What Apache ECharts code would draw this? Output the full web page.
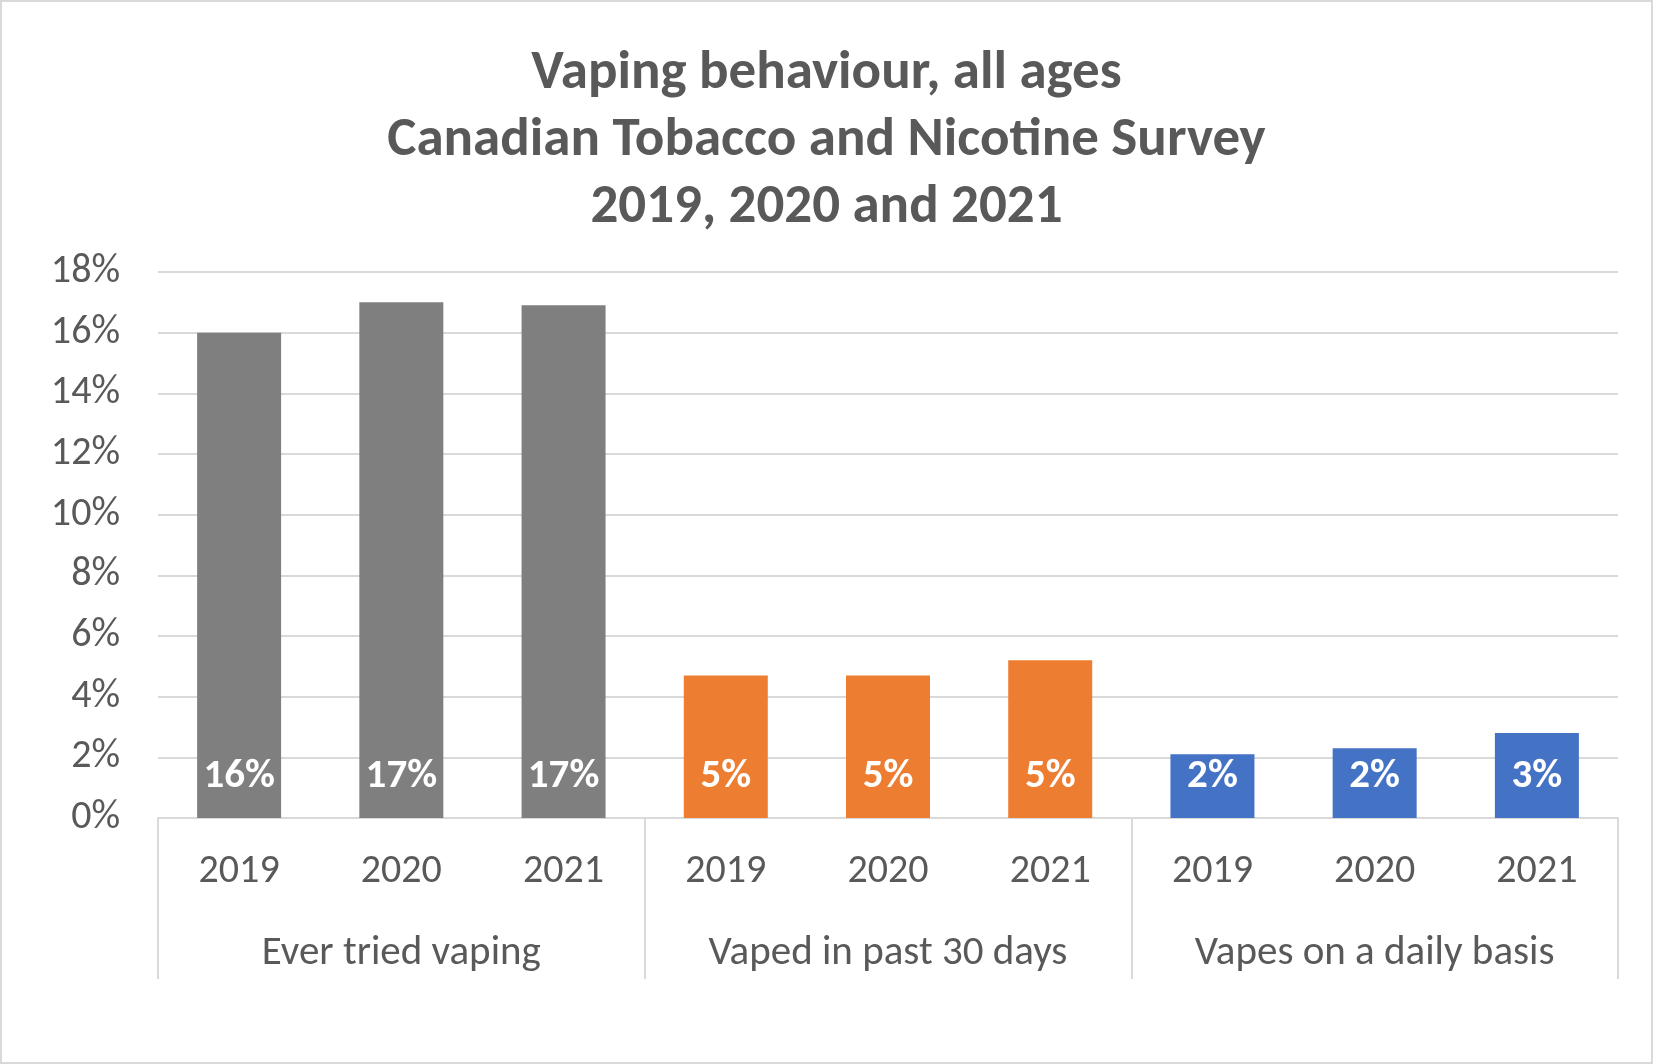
<!DOCTYPE html>
<html><head><meta charset="utf-8">
<script src="https://cdn.jsdelivr.net/npm/echarts@6/dist/echarts.min.js"></script>
<style>
html,body{margin:0;padding:0;background:#fff;}
#c{width:1653px;height:1064px;box-sizing:border-box;border:2px solid #d9d9d9;}
</style></head>
<body><div id="c"></div>
<script>
const titleLines = ['Vaping behaviour, all ages','Canadian Tobacco and Nicotine Survey','2019, 2020 and 2021'];
const years = ['2019','2020','2021'];
const groups = ['Ever tried vaping','Vaped in past 30 days','Vapes on a daily basis'];
const everTried = [16.0, 17.0, 16.9];
const past30 = [4.7, 4.7, 5.2];
const daily = [2.1, 2.3, 2.8];
const groupColors = ['#7f7f7f','#ed7d31','#4472c4'];
const yTicks = [0,2,4,6,8,10,12,14,16,18];

const FONT = 'Carlito, Lato, sans-serif';
const TXT = '#595959';
const seriesValues = [everTried, past30, daily];
const cats = [];
const data = [];
groups.forEach((g, gi) => {
  years.forEach((y, yi) => {
    cats.push(y);
    data.push({ value: seriesValues[gi][yi], itemStyle: { color: groupColors[gi] } });
  });
});

const chart = echarts.init(document.getElementById('c'));
chart.setOption({
  animation: false,
  textStyle: { fontFamily: FONT },
  title: {
    text: titleLines.join('\n'),
    left: 'center', top: 34,
    textStyle: { fontFamily: FONT, fontWeight: 'bold', fontSize: 55, lineHeight: 67, color: TXT }
  },
  grid: { left: 156, right: 33, top: 270, bottom: 244, containLabel: false },
  xAxis: [
    {
      type: 'category', data: cats, position: 'bottom',
      axisLine: { show: true, lineStyle: { color: '#d9d9d9', width: 2 } },
      axisTick: { show: false },
      axisLabel: { color: TXT, fontSize: 40, margin: 34, fontFamily: FONT }
    },
    {
      type: 'category', data: groups, position: 'bottom',
      axisLine: { show: false },
      axisTick: { show: true, interval: 0, length: 161, lineStyle: { color: '#d9d9d9', width: 2 } },
      axisLabel: { color: TXT, fontSize: 41, margin: 115, interval: 0, fontFamily: FONT }
    }
  ],
  yAxis: {
    type: 'value', min: yTicks[0], max: yTicks[yTicks.length-1], interval: yTicks[1]-yTicks[0],
    axisLine: { show: false }, axisTick: { show: false },
    axisLabel: { formatter: '{value}%', color: TXT, fontSize: 40, margin: 38, fontFamily: FONT },
    splitLine: { lineStyle: { color: '#d9d9d9', width: 2 } }
  },
  series: [{
    type: 'bar', xAxisIndex: 0, data: data, barWidth: 84,
    label: {
      show: true, position: 'insideBottom', distance: 21,
      formatter: p => Math.round(p.value) + '%',
      color: '#fff', fontWeight: 'bold', fontSize: 41, fontFamily: FONT
    }
  }]
});
</script></body></html>
